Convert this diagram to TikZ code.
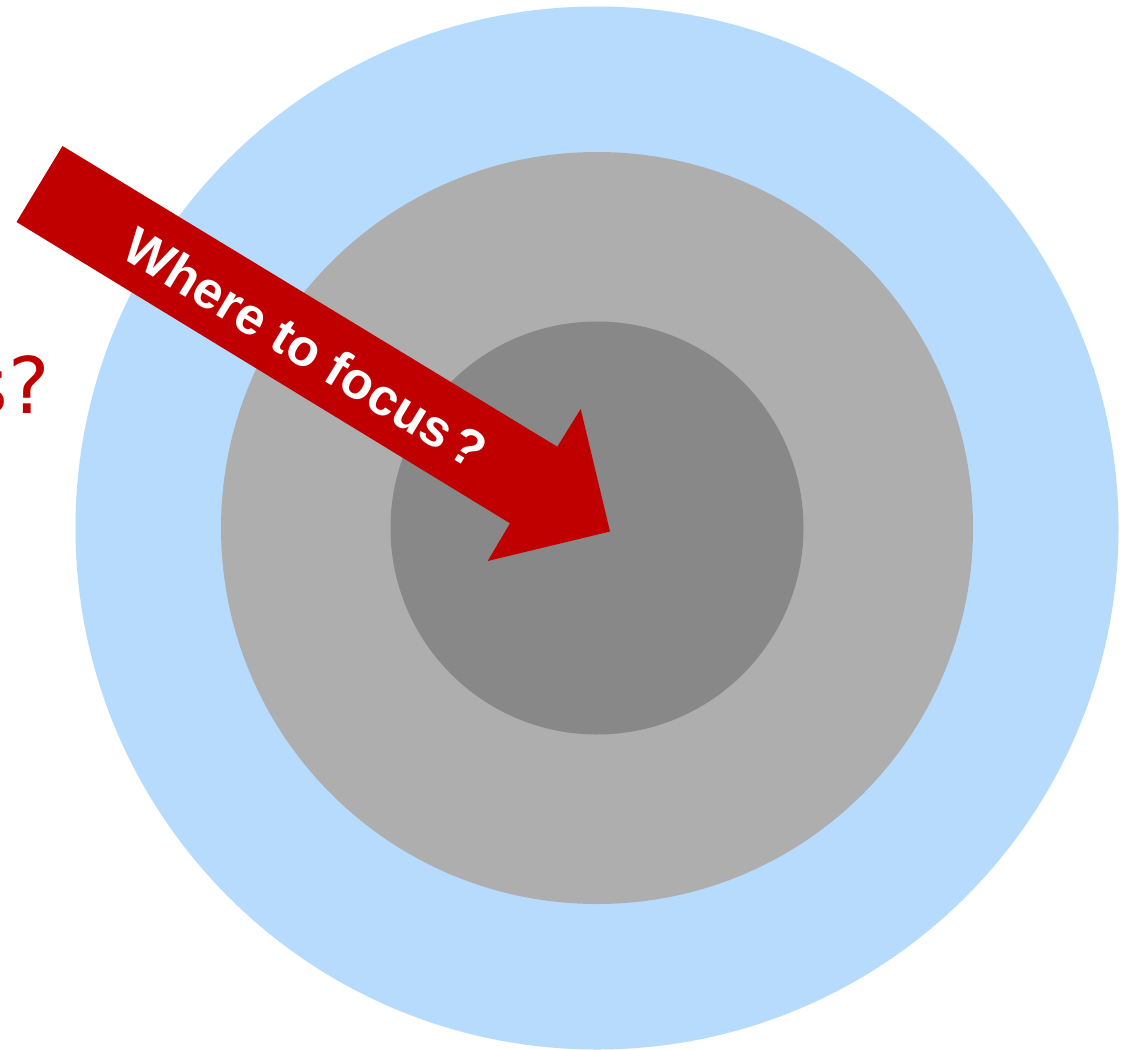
\documentclass[tikz,border=0pt]{standalone}
\usepackage{fontspec}
\setmainfont{DejaVu Sans}
\newfontfamily\arialbold{Liberation Sans Bold}
\definecolor{skyblue}{HTML}{B7DBFD}
\definecolor{midgray}{HTML}{AEAEAE}
\definecolor{coregray}{HTML}{888888}
\definecolor{alertred}{HTML}{C00000}
\begin{document}
\begin{tikzpicture}[x=1pt,y=-1pt,
  ring/.style={circle, inner sep=0pt, draw=none},
  arrowtxt/.style={text=white, font=\arialbold\fontsize{52}{56}\selectfont, inner sep=0pt, rotate=-31.3},
  sidetxt/.style={text=alertred, font=\fontsize{78}{90}\selectfont, inner sep=0pt}]
\useasboundingbox (0,0) rectangle (1134,1049);
\fill[white] (0,0) rectangle (1134,1049);
\node[ring, fill=skyblue, minimum size=1043pt] (outer) at (597,528) {};
\node[ring, fill=midgray, minimum size=752pt] (middle) at (597,528) {};
\node[ring, fill=coregray, minimum size=413pt] (core) at (597,528) {};
\node[sidetxt, anchor=base east] (side) at (50,413) {s?};
\fill[alertred] (62.5,146) -- (557.3,446.7) -- (580.7,409) -- (610,531.5) -- (487.7,561) -- (510,523.3) -- (16.5,222) -- cycle;
\node[arrowtxt, anchor=base] (label) at (296,364) {Where to focus\hspace{0.12em}?};
\end{tikzpicture}
\end{document}
